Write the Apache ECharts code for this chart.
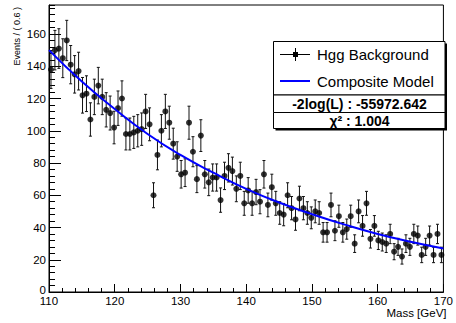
<!DOCTYPE html>
<html>
<head>
<meta charset="utf-8">
<script src="https://cdn.jsdelivr.net/npm/echarts@6/dist/echarts.min.js"></script>
<style>html,body{margin:0;padding:0;background:#fff}#c{width:456px;height:323px}</style>
</head>
<body>
<div id="c"></div>
<script>
// ---- data ----
const xMin = 110, xMax = 170, binWidth = 0.6;
const yMin = 0, yMax = 178;
const xTickLabels = [110, 120, 130, 140, 150, 160, 170];
const yTickLabels = [0, 20, 40, 60, 80, 100, 120, 140, 160];
const eventCounts = [
  138,150,151,145,156,141,135,137,122,123,
  107,121,128,121,113,111,102,114,120,98,
  98,99,100,101,112,104,60,85,100,112,
  105,92,84,73,74,105,87,70,97,73,
  68,71,71,57,72,77,75,64,72,55,
  63,55,62,56,73,54,65,55,49,48,
  60,52,45,58,52,49,46,50,49,37,
  37,54,38,47,37,39,47,30,50,41,
  55,33,41,32,31,30,36,25,28,22,
  30,28,36,35,23,28,35,23,36,23
];
const modelX = [110,115,120,125,130,135,140,145,150,155,160,165,170];
const modelY = [150,130.5,113.5,98,85,74,64,55.5,48.3,41.8,36,31.2,27];

const legendLabels = ['Hgg Background', 'Composite Model'];
const statTexts = ['-2log(L) : -55972.642', 'χ² : 1.004'];

// ---- build ----
const FONT = '"Liberation Sans", Arial, Helvetica, sans-serif';
const points = eventCounts.map((v, i) => [xMin + binWidth * (i + 0.5), v, Math.sqrt(v)]);
const curve = modelX.map((x, i) => [x, modelY[i]]);

const chart = echarts.init(document.getElementById('c'), null, {renderer: 'svg'});
chart.setOption({
  animation: false,
  backgroundColor: '#fff',
  grid: {left: 49, right: 9, top: 5, bottom: 31, containLabel: false,
         show: true, borderColor: '#000', borderWidth: 1, backgroundColor: 'transparent'},
  xAxis: {
    type: 'value', min: xMin, max: xMax, interval: 10,
    axisLine: {show: true, lineStyle: {color: '#000', width: 1}},
    axisTick: {show: true, inside: true, length: 8, lineStyle: {color: '#000'}},
    minorTick: {show: true, splitNumber: 5, length: 4, lineStyle: {color: '#000'}},
    splitLine: {show: false},
    axisLabel: {color: '#000', fontFamily: FONT, fontSize: 11.5, margin: 4, lineHeight: 10,
      formatter: v => xTickLabels.includes(v) ? String(v) : ''}
  },
  yAxis: [{
    type: 'value', min: yMin, max: yMax, interval: 20,
    axisLine: {show: true, lineStyle: {color: '#000', width: 1}},
    axisTick: {show: true, inside: true, length: 12, lineStyle: {color: '#000'}},
    splitLine: {show: false},
    axisLabel: {color: '#000', fontFamily: FONT, fontSize: 11.5, margin: 3, lineHeight: 10,
      showMaxLabel: false,
      rich: {zero: {fontFamily: FONT, fontSize: 11.5, lineHeight: 9, padding: [0, 0, 5, 0], color: '#000'}},
      formatter: v => !yTickLabels.includes(v) ? '' : (v === 0 ? '{zero|0}' : String(v))}
  }, {
    type: 'value', min: yMin, max: yMax, interval: 4, position: 'left',
    axisLine: {show: false},
    axisTick: {show: true, inside: true, length: 6, lineStyle: {color: '#000'}},
    splitLine: {show: false},
    axisLabel: {show: false}
  }],
  series: [{
    type: 'custom', yAxisIndex: 0, z: 2,
    data: points,
    renderItem: function (params, api) {
      const x = api.value(0), y = api.value(1), e = api.value(2);
      const t = api.coord([x, y + e]), b = api.coord([x, y - e]);
      const st = {stroke: '#111', lineWidth: 1};
      return {type: 'group', children: [
        {type: 'line', shape: {x1: t[0], y1: t[1], x2: b[0], y2: b[1]}, style: st},
        {type: 'line', shape: {x1: t[0] - 1.5, y1: t[1], x2: t[0] + 1.5, y2: t[1]}, style: st},
        {type: 'line', shape: {x1: b[0] - 1.5, y1: b[1], x2: b[0] + 1.5, y2: b[1]}, style: st}
      ]};
    }
  }, {
    type: 'scatter', yAxisIndex: 0, z: 3,
    data: points.map(p => [p[0], p[1]]),
    symbol: 'circle', symbolSize: 6,
    itemStyle: {color: '#000'}
  }, {
    type: 'line', yAxisIndex: 0, z: 4,
    data: curve, smooth: true, showSymbol: false, symbol: 'none',
    lineStyle: {color: '#0000ff', width: 2}
  }],
  graphic: [
    {type: 'text', x: 16.5, y: 7, rotation: Math.PI / 2,
     style: {text: 'Events / ( 0.6 )', font: '9px ' + FONT, fill: '#000', align: 'right', verticalAlign: 'middle'}},
    {type: 'text', x: 446.5, y: 313,
     style: {text: 'Mass [GeV]', font: '11.5px ' + FONT, fill: '#000', align: 'right', verticalAlign: 'middle'}},
    // legend shadow + boxes
    {type: 'rect', shape: {x: 275.5, y: 43.5, width: 171.5, height: 87}, style: {fill: '#000'}, z: 10},
    {type: 'rect', shape: {x: 273.5, y: 41.5, width: 171.5, height: 53.5}, style: {fill: '#fff', stroke: '#000', lineWidth: 1}, z: 11},
    {type: 'rect', shape: {x: 273.5, y: 95, width: 171.5, height: 17.5}, style: {fill: '#fff', stroke: '#000', lineWidth: 1}, z: 11},
    {type: 'rect', shape: {x: 273.5, y: 112.5, width: 171.5, height: 16}, style: {fill: '#fff', stroke: '#000', lineWidth: 1}, z: 11},
    // legend entry 1
    {type: 'line', shape: {x1: 280, y1: 54.5, x2: 310, y2: 54.5}, style: {stroke: '#000', lineWidth: 1}, z: 12},
    {type: 'line', shape: {x1: 295.5, y1: 48, x2: 295.5, y2: 61}, style: {stroke: '#000', lineWidth: 1}, z: 12},
    {type: 'rect', shape: {x: 293, y: 52, width: 5, height: 5}, style: {fill: '#000'}, z: 12},
    {type: 'text', x: 317, y: 54.5, style: {text: legendLabels[0], font: '15px ' + FONT, fill: '#000', verticalAlign: 'middle'}, z: 12},
    // legend entry 2
    {type: 'line', shape: {x1: 280, y1: 81, x2: 310, y2: 81}, style: {stroke: '#0000ff', lineWidth: 2}, z: 12},
    {type: 'text', x: 317, y: 81, style: {text: legendLabels[1], font: '15px ' + FONT, fill: '#000', verticalAlign: 'middle'}, z: 12},
    // stats
    {type: 'text', x: 359.5, y: 104, style: {text: statTexts[0], font: 'bold 14px ' + FONT, fill: '#000', align: 'center', verticalAlign: 'middle'}, z: 12},
    {type: 'text', x: 359.5, y: 121, style: {text: statTexts[1], font: 'bold 14px ' + FONT, fill: '#000', align: 'center', verticalAlign: 'middle'}, z: 12}
  ]
});
</script>
</body>
</html>
